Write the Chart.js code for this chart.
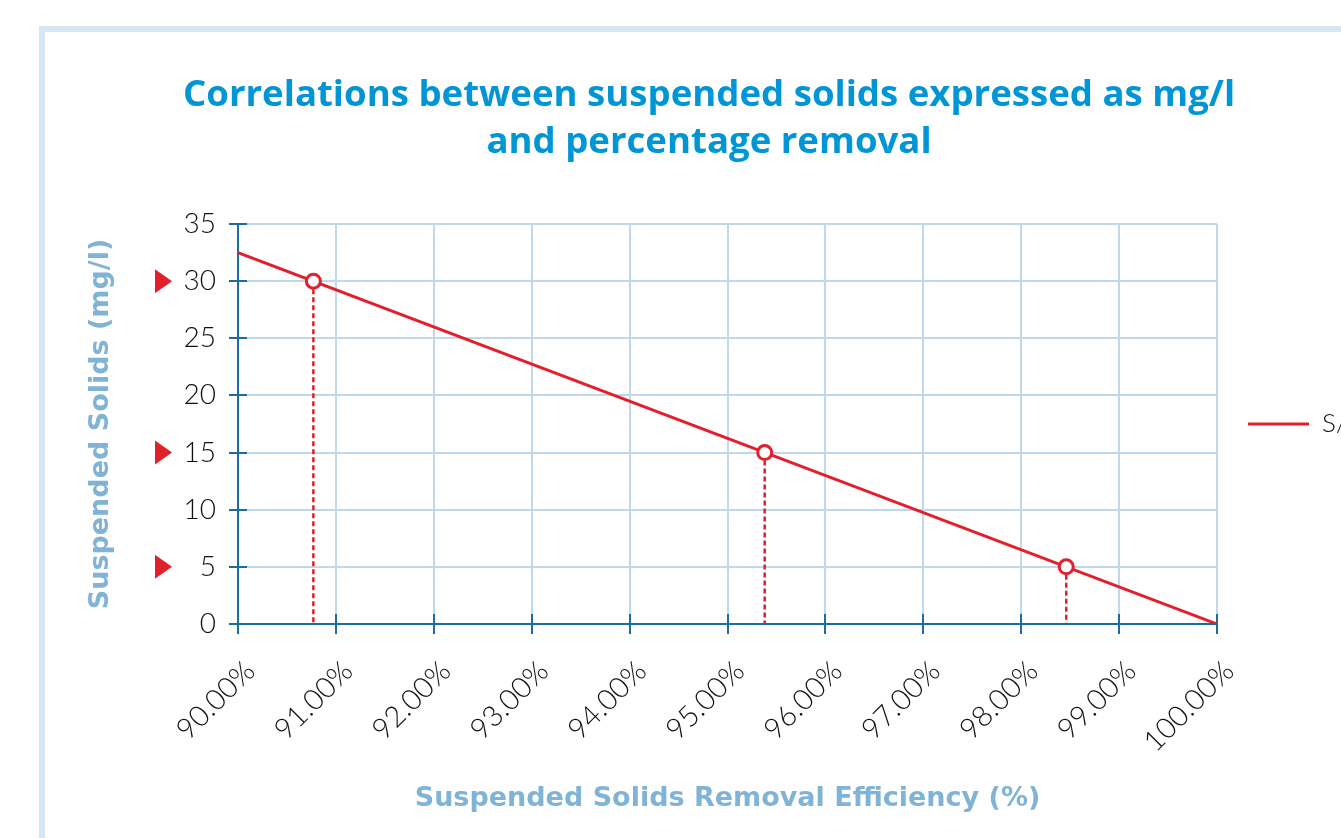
<!DOCTYPE html>
<html><head><meta charset="utf-8">
<script src="https://cdn.jsdelivr.net/npm/chart.js@4.4.1/dist/chart.umd.min.js"></script>
<style>
html,body{margin:0;padding:0;background:#fff;overflow:hidden;width:1341px;height:838px;}
#frame{position:absolute;left:39px;top:26px;width:1420px;height:900px;border:6px solid #d8e6f1;box-sizing:border-box;}
#wrap{position:absolute;left:0;top:0;width:1345px;height:838px;}
</style></head><body>
<div id="frame"></div>
<div id="wrap"><canvas id="c" width="1345" height="838"></canvas></div>
<script>
// ---- data ----
const titleLines = ['Correlations between suspended solids expressed as mg/l', 'and percentage removal'];
const xAxisTitle = 'Suspended Solids Removal Efficiency (%)';
const yAxisTitle = 'Suspended Solids (mg/l)';
const seriesName = 'S/S (mg/l)';
const lineEfficiency = [90, 100];          // % removal
const lineSolids = [32.5, 0];              // mg/l
const markerEfficiency = [90.77, 95.38, 98.46];
const markerSolids = [30, 15, 5];
const xTicksMin = 90, xTicksMax = 100, xTickStep = 1;
const yTicksMin = 0, yTicksMax = 35, yTickStep = 5;

// ---- styles ----
const red = '#e2202b';
const axisColor = '#1a6e9f';
const gridColor = '#c0d8ea';
const titleColor = '#0096d6';
const axisTitleColor = '#80b4d6';

const pts = (xs, ys) => xs.map((v, i) => ({x: v, y: ys[i]}));

const datasets = [
  {label: seriesName, data: pts(lineEfficiency, lineSolids), showLine: true,
   borderColor: red, backgroundColor: red, borderWidth: 3, pointRadius: 0, order: 1}
];
markerEfficiency.forEach((v, i) => {
  datasets.push({label: 'drop' + i, data: [{x: v, y: markerSolids[i]}, {x: v, y: 0}], showLine: true,
    borderColor: red, borderWidth: 2.5, borderDash: [5, 3], pointRadius: 0, order: 2});
});
datasets.push({label: 'points', data: pts(markerEfficiency, markerSolids), showLine: false,
  pointRadius: 7, pointBorderWidth: 3, pointBackgroundColor: '#fff', pointBorderColor: red, order: 0, clip: false});

const extras = {
  id: 'extras',
  beforeDatasetsDraw(chart) {
    const {ctx, scales: {x, y}, chartArea: a} = chart;
    ctx.save();
    ctx.strokeStyle = axisColor; ctx.lineWidth = 2;
    x.ticks.forEach(t => { const px = Math.round(x.getPixelForValue(t.value)); ctx.beginPath(); ctx.moveTo(px, a.bottom); ctx.lineTo(px, a.bottom - 10); ctx.stroke(); });
    y.ticks.forEach(t => { const py = Math.round(y.getPixelForValue(t.value)); ctx.beginPath(); ctx.moveTo(a.left, py); ctx.lineTo(a.left + 9, py); ctx.stroke(); });
    ctx.restore();
  },
  afterDraw(chart) {
    const {ctx, scales: {y}} = chart;
    ctx.save(); ctx.fillStyle = red;
    markerSolids.forEach(v => {
      const py = y.getPixelForValue(v);
      ctx.beginPath(); ctx.moveTo(155, py - 12); ctx.lineTo(172, py); ctx.lineTo(155, py + 12); ctx.closePath(); ctx.fill();
    });
    ctx.restore();
  }
};

new Chart(document.getElementById('c'), {
  type: 'scatter',
  data: {datasets},
  plugins: [extras],
  options: {
    responsive: false, animation: false, devicePixelRatio: 1,
    layout: {padding: {left: 73, right: 0, top: 0, bottom: 0}},
    plugins: {
      tooltip: {enabled: false},
      title: {display: true, text: titleLines, color: titleColor,
        font: {family: 'Open Sans', weight: 'bold', size: 36.6, lineHeight: '47px'},
        padding: {top: 72, bottom: 58}},
      legend: {position: 'right', fullSize: false, maxWidth: 128, align: 'center',
        labels: {filter: (item) => item.datasetIndex === 0, usePointStyle: true, pointStyle: 'line',
          pointStyleWidth: 61, padding: 31, color: '#111', font: {family: 'Lato', weight: 300, size: 26}}}
    },
    scales: {
      x: {type: 'linear', min: xTicksMin, max: xTicksMax,
        afterFit: (s) => { s.height = 214; },
        ticks: {stepSize: xTickStep, minRotation: 45, maxRotation: 45, autoSkip: false,
          padding: 20, labelOffset: 12, color: '#111',
          font: {family: 'Lato', weight: 300, size: 29},
          callback: (v) => Number(v).toFixed(2) + '%'},
        grid: {color: gridColor, lineWidth: 2, tickColor: axisColor, tickLength: 10, tickWidth: 2},
        border: {color: axisColor, width: 2},
        title: {display: true, text: xAxisTitle, color: axisTitleColor,
          font: {family: 'DejaVu Sans', weight: 'bold', size: 27}, padding: {top: 0, bottom: 23}}},
      y: {type: 'linear', min: yTicksMin, max: yTicksMax,
        afterFit: (s) => { s.width = 165; },
        ticks: {stepSize: yTickStep, padding: 13, color: '#111',
          font: {family: 'Lato', weight: 300, size: 28}},
        grid: {color: gridColor, lineWidth: 2, tickColor: axisColor, tickLength: 9, tickWidth: 2},
        border: {color: axisColor, width: 2},
        title: {display: true, text: yAxisTitle, color: axisTitleColor,
          font: {family: 'DejaVu Sans', weight: 'bold', size: 27}, padding: {top: 12.2, bottom: 0}}}
    }
  }
});
</script>
</body></html>
